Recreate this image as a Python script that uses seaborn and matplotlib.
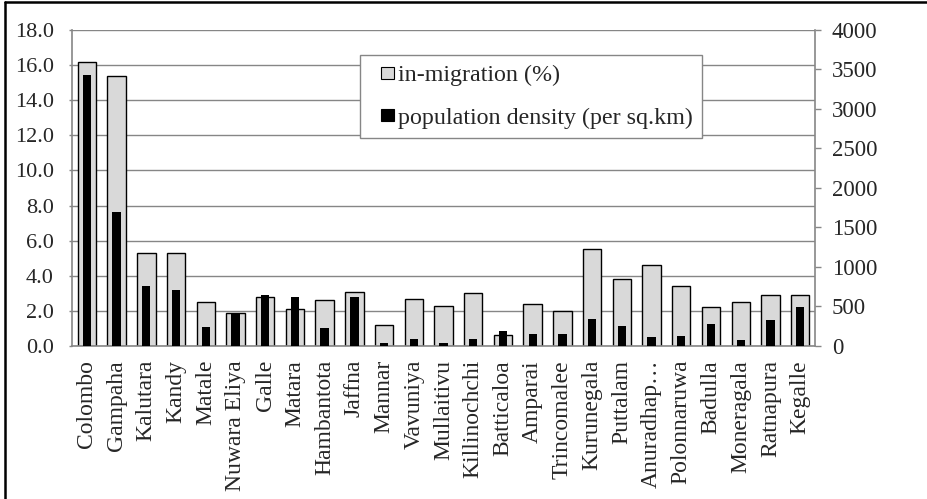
import matplotlib
matplotlib.use("Agg")
import matplotlib.pyplot as plt
from matplotlib.patches import Patch, Rectangle
from matplotlib.lines import Line2D
from matplotlib.legend_handler import HandlerPatch
import numpy as np
import pandas as pd
import seaborn as sns

districts = ["Colombo", "Gampaha", "Kalutara", "Kandy", "Matale", "Nuwara Eliya",
             "Galle", "Matara", "Hambantota", "Jaffna", "Mannar", "Vavuniya",
             "Mullaitivu", "Killinochchi", "Batticaloa", "Amparai", "Trincomalee",
             "Kurunegala", "Puttalam", "Anuradhap\u2026", "Polonnaruwa", "Badulla",
             "Moneragala", "Ratnapura", "Kegalle"]
in_migration = [16.2, 15.4, 5.3, 5.3, 2.5, 1.9, 2.8, 2.1, 2.6, 3.1, 1.2, 2.7, 2.3,
                3.0, 0.6, 2.4, 2.0, 5.5, 3.8, 4.6, 3.4, 2.2, 2.5, 2.9, 2.9]
density = [3430, 1700, 760, 705, 240, 405, 645, 625, 230, 620, 42, 85, 34, 85,
           190, 152, 148, 342, 257, 118, 122, 278, 72, 325, 494]
left_ticks = [0, 2, 4, 6, 8, 10, 12, 14, 16, 18]
right_ticks = [0, 500, 1000, 1500, 2000, 2500, 3000, 3500, 4000]
label_mig = "in-migration (%)"
label_den = "population density (per sq.km)"

df = pd.DataFrame({"district": districts, "mig": in_migration, "den": density})

sns.set_style("white")
plt.rcParams["font.family"] = ["Liberation Serif", "DejaVu Serif"]

GRID = "#868686"
FILL = "#d9d9d9"


class SquareHandler(HandlerPatch):
    """Small square key drawn at the right end of the handle slot."""

    def create_artists(self, legend, orig_handle, xdescent, ydescent,
                       width, height, fontsize, trans):
        side = 0.52 * fontsize
        x0 = -xdescent + width - side
        y0 = -ydescent + (height - side) / 2.0
        p = Rectangle((x0, y0), side, side,
                      facecolor=orig_handle.get_facecolor(),
                      edgecolor=orig_handle.get_edgecolor(),
                      linewidth=orig_handle.get_linewidth(),
                      transform=trans)
        return [p]


fig = plt.figure(figsize=(9.27, 4.99), dpi=100)
ax = fig.add_axes([0.0777, 0.3066, 0.8015, 0.6334])

sns.barplot(data=df, x="district", y="mig", ax=ax, color=FILL, width=0.62,
            edgecolor="black", linewidth=1.0, saturation=1, zorder=2)
ax.set_ylim(0, 18)
ax.set_yticks(left_ticks)
ax.set_yticklabels([f"{v:.1f}" for v in left_ticks], fontsize=16)
ax.yaxis.grid(True, color=GRID, linewidth=1.0)
ax.set_axisbelow(True)
ax.set_xlim(-0.5, len(districts) - 0.5)
ax.set_xlabel("")
ax.set_ylabel("")
ax.set_xticks(range(len(districts)))
ax.set_xticklabels(districts, rotation=90, fontsize=17, va="top", ha="center")
ax.tick_params(axis="x", length=0, pad=10)
ax.set_xticks(np.arange(-0.5, len(districts), 1.0), minor=True)
ax.tick_params(axis="x", which="minor", length=3, color=GRID, width=1)
ax.tick_params(axis="y", length=2, color=GRID, width=1, pad=11, direction="out")
for side in ["top", "right"]:
    ax.spines[side].set_visible(False)
for side in ["left", "bottom"]:
    ax.spines[side].set_color(GRID)
    ax.spines[side].set_linewidth(1.2)

ax2 = ax.twinx()
sns.barplot(data=df, x="district", y="den", ax=ax2, color="black", width=0.28,
            saturation=1, linewidth=0, zorder=3)
ax2.set_ylim(0, 4000)
ax2.set_yticks(right_ticks)
ax2.set_yticklabels([str(v) for v in right_ticks], fontsize=16.5)
ax2.set_xlim(-0.5, len(districts) - 0.5)
ax2.set_ylabel("")
ax2.set_xlabel("")
ax2.tick_params(axis="y", length=4, color=GRID, width=1, pad=8, direction="out")
for side in ["top", "left", "bottom"]:
    ax2.spines[side].set_visible(False)
ax2.spines["right"].set_color(GRID)
ax2.spines["right"].set_linewidth(1.2)
ax2.grid(False)

handles = [Patch(facecolor=FILL, edgecolor="black", linewidth=0.8, label=label_mig),
           Patch(facecolor="black", edgecolor="black", linewidth=0.8, label=label_den)]
leg = ax2.legend(handles=handles, loc="upper left", bbox_to_anchor=(0.388, 0.921),
                 fontsize=17.3, frameon=True, fancybox=False, edgecolor=GRID,
                 framealpha=1, handlelength=1.0, handleheight=0.7,
                 handletextpad=0.15, labelspacing=0.85, borderpad=0.4,
                 borderaxespad=0, handler_map={Patch: SquareHandler()})
leg.get_frame().set_linewidth(1.0)

# outer frame lines along the top and left edges
fig.add_artist(Line2D([0.0055, 1.0], [0.996, 0.996], transform=fig.transFigure,
                      color="black", linewidth=1.8))
fig.add_artist(Line2D([0.0055, 0.0055], [0.0, 0.996], transform=fig.transFigure,
                      color="black", linewidth=1.8))

fig.savefig("out.png", dpi=100)
